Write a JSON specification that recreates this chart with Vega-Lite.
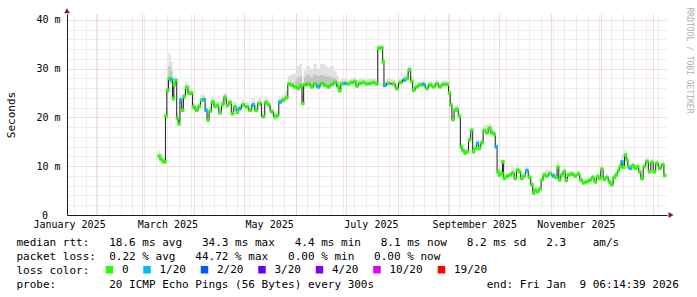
{
  "$schema": "https://vega.github.io/schema/vega-lite/v6.json",
  "width": 600,
  "height": 201,
  "autosize": {"type": "none"},
  "padding": {"left": 67, "top": 14, "right": 30, "bottom": 82},
  "background": "#ffffff",
  "config": {
    "view": {"stroke": null},
    "font": "DejaVu Sans Mono",
    "axis": {"labelFont": "DejaVu Sans Mono", "titleFont": "DejaVu Sans Mono"},
    "legend": {"labelFont": "DejaVu Sans Mono"}
  },
  "datasets": {
    "pts": [
      {"t": "2025-03-11T00:00", "v": 12.1, "loss": "0", "lo": 11.6, "hi": 13.4},
      {"t": "2025-03-12T00:00", "v": 11.5, "loss": "0", "lo": 11.0, "hi": 12.6},
      {"t": "2025-03-13T12:00", "v": 11.0, "loss": "0", "lo": 10.6, "hi": 11.8},
      {"t": "2025-03-14T12:00", "v": 10.9, "loss": "0", "lo": 10.5, "hi": 11.8},
      {"t": "2025-03-15T04:00", "v": 20.3, "loss": "0", "lo": 19.6, "hi": 22.0},
      {"t": "2025-03-16T04:00", "v": 25.6, "loss": "0", "lo": 24.8, "hi": 30.5},
      {"t": "2025-03-17T04:00", "v": 28.0, "loss": "0", "lo": 26.8, "hi": 33.3},
      {"t": "2025-03-18T14:00", "v": 27.8, "loss": "1/20", "lo": 26.8, "hi": 31.5},
      {"t": "2025-03-19T13:00", "v": 23.9, "loss": "0", "lo": 23.2, "hi": 28.0},
      {"t": "2025-03-20T04:00", "v": 26.7, "loss": "0", "lo": 25.8, "hi": 28.5},
      {"t": "2025-03-21T04:00", "v": 27.6, "loss": "0", "lo": 26.9, "hi": 28.6},
      {"t": "2025-03-22T00:00", "v": 19.8, "loss": "0", "lo": 19.2, "hi": 21.0},
      {"t": "2025-03-23T00:00", "v": 18.7, "loss": "0", "lo": 18.2, "hi": 19.8},
      {"t": "2025-03-24T00:00", "v": 23.6, "loss": "1/20", "lo": 22.8, "hi": 24.6},
      {"t": "2025-03-25T04:00", "v": 21.5, "loss": "0", "lo": 21.0, "hi": 22.6},
      {"t": "2025-03-26T00:00", "v": 24.3, "loss": "0", "lo": 23.6, "hi": 25.2},
      {"t": "2025-03-27T14:00", "v": 26.2, "loss": "0", "lo": 25.5, "hi": 27.4},
      {"t": "2025-03-29T00:00", "v": 25.0, "loss": "0", "lo": 24.5, "hi": 26.6},
      {"t": "2025-03-30T14:00", "v": 25.0, "loss": "0", "lo": 24.5, "hi": 26.0},
      {"t": "2025-03-31T13:00", "v": 22.2, "loss": "0", "lo": 21.7, "hi": 23.0},
      {"t": "2025-04-02T14:00", "v": 21.5, "loss": "0", "lo": 21.0, "hi": 22.4},
      {"t": "2025-04-04T04:00", "v": 22.3, "loss": "0", "lo": 21.8, "hi": 23.2},
      {"t": "2025-04-05T14:00", "v": 23.6, "loss": "0", "lo": 23.0, "hi": 24.6},
      {"t": "2025-04-07T00:00", "v": 23.7, "loss": "1/20", "lo": 23.1, "hi": 24.6},
      {"t": "2025-04-08T04:00", "v": 21.5, "loss": "1/20", "lo": 21.0, "hi": 22.5},
      {"t": "2025-04-09T09:00", "v": 19.5, "loss": "0", "lo": 19.0, "hi": 20.6},
      {"t": "2025-04-10T14:00", "v": 21.3, "loss": "0", "lo": 20.8, "hi": 22.2},
      {"t": "2025-04-12T04:00", "v": 23.2, "loss": "0", "lo": 22.6, "hi": 24.3},
      {"t": "2025-04-13T14:00", "v": 22.3, "loss": "0", "lo": 21.8, "hi": 23.3},
      {"t": "2025-04-15T00:00", "v": 22.5, "loss": "0", "lo": 22.0, "hi": 23.5},
      {"t": "2025-04-16T14:00", "v": 21.0, "loss": "0", "lo": 20.5, "hi": 22.0},
      {"t": "2025-04-18T04:00", "v": 22.7, "loss": "0", "lo": 22.2, "hi": 23.7},
      {"t": "2025-04-19T14:00", "v": 24.2, "loss": "0", "lo": 23.6, "hi": 25.0},
      {"t": "2025-04-21T00:00", "v": 22.5, "loss": "0", "lo": 22.0, "hi": 23.5},
      {"t": "2025-04-22T14:00", "v": 23.1, "loss": "0", "lo": 22.6, "hi": 24.0},
      {"t": "2025-04-24T00:00", "v": 20.8, "loss": "0", "lo": 20.3, "hi": 21.8},
      {"t": "2025-04-25T14:00", "v": 22.2, "loss": "0", "lo": 21.7, "hi": 23.2},
      {"t": "2025-04-27T00:00", "v": 21.1, "loss": "0", "lo": 20.6, "hi": 22.0},
      {"t": "2025-04-28T04:00", "v": 21.8, "loss": "1/20", "lo": 21.3, "hi": 22.7},
      {"t": "2025-04-30T13:00", "v": 22.6, "loss": "0", "lo": 22.1, "hi": 23.6},
      {"t": "2025-05-02T14:00", "v": 22.2, "loss": "0", "lo": 21.7, "hi": 23.2},
      {"t": "2025-05-04T14:00", "v": 21.5, "loss": "0", "lo": 21.0, "hi": 22.6},
      {"t": "2025-05-06T13:00", "v": 22.6, "loss": "1/20", "lo": 22.1, "hi": 23.8},
      {"t": "2025-05-08T04:00", "v": 21.5, "loss": "0", "lo": 21.0, "hi": 22.6},
      {"t": "2025-05-10T04:00", "v": 22.9, "loss": "0", "lo": 22.3, "hi": 24.0},
      {"t": "2025-05-12T13:00", "v": 20.2, "loss": "0", "lo": 19.7, "hi": 21.4},
      {"t": "2025-05-14T04:00", "v": 23.1, "loss": "0", "lo": 22.5, "hi": 24.2},
      {"t": "2025-05-15T13:00", "v": 22.6, "loss": "0", "lo": 22.0, "hi": 23.6},
      {"t": "2025-05-17T14:00", "v": 21.2, "loss": "0", "lo": 20.6, "hi": 22.2},
      {"t": "2025-05-19T14:00", "v": 20.2, "loss": "0", "lo": 19.5, "hi": 21.2},
      {"t": "2025-05-21T00:00", "v": 20.4, "loss": "0", "lo": 19.7, "hi": 21.4},
      {"t": "2025-05-22T14:00", "v": 23.2, "loss": "1/20", "lo": 22.6, "hi": 24.2},
      {"t": "2025-05-24T13:00", "v": 23.6, "loss": "0", "lo": 23.0, "hi": 24.6},
      {"t": "2025-05-26T14:00", "v": 24.1, "loss": "0", "lo": 23.5, "hi": 25.5},
      {"t": "2025-05-27T19:00", "v": 26.9, "loss": "0", "lo": 26.3, "hi": 28.5},
      {"t": "2025-05-29T14:00", "v": 26.7, "loss": "0", "lo": 26.1, "hi": 28.8},
      {"t": "2025-05-31T14:00", "v": 26.3, "loss": "0", "lo": 25.8, "hi": 29.0},
      {"t": "2025-06-02T13:00", "v": 26.0, "loss": "0", "lo": 25.5, "hi": 30.5},
      {"t": "2025-06-04T04:00", "v": 26.5, "loss": "0", "lo": 26.0, "hi": 31.0},
      {"t": "2025-06-05T05:00", "v": 22.9, "loss": "0", "lo": 22.5, "hi": 26.5},
      {"t": "2025-06-06T04:00", "v": 26.7, "loss": "0", "lo": 26.2, "hi": 29.5},
      {"t": "2025-06-08T13:00", "v": 26.9, "loss": "0", "lo": 26.3, "hi": 30.6},
      {"t": "2025-06-10T14:00", "v": 26.3, "loss": "0", "lo": 25.8, "hi": 29.8},
      {"t": "2025-06-12T14:00", "v": 26.9, "loss": "0", "lo": 26.3, "hi": 31.0},
      {"t": "2025-06-14T13:00", "v": 26.3, "loss": "1/20", "lo": 25.8, "hi": 30.0},
      {"t": "2025-06-16T14:00", "v": 27.0, "loss": "0", "lo": 26.4, "hi": 31.0},
      {"t": "2025-06-18T14:00", "v": 26.6, "loss": "0", "lo": 26.0, "hi": 30.8},
      {"t": "2025-06-20T13:00", "v": 26.3, "loss": "0", "lo": 25.8, "hi": 30.2},
      {"t": "2025-06-22T14:00", "v": 26.8, "loss": "0", "lo": 26.2, "hi": 30.6},
      {"t": "2025-06-24T14:00", "v": 27.2, "loss": "0", "lo": 26.6, "hi": 29.5},
      {"t": "2025-06-26T13:00", "v": 26.3, "loss": "0", "lo": 25.8, "hi": 28.5},
      {"t": "2025-06-27T07:00", "v": 25.5, "loss": "0", "lo": 25.0, "hi": 27.5},
      {"t": "2025-06-28T14:00", "v": 26.9, "loss": "0", "lo": 26.4, "hi": 28.0},
      {"t": "2025-06-30T14:00", "v": 27.0, "loss": "1/20", "lo": 26.5, "hi": 27.9},
      {"t": "2025-07-02T13:00", "v": 26.9, "loss": "0", "lo": 26.4, "hi": 27.8},
      {"t": "2025-07-04T14:00", "v": 27.2, "loss": "0", "lo": 26.7, "hi": 28.0},
      {"t": "2025-07-06T14:00", "v": 27.4, "loss": "0", "lo": 26.9, "hi": 28.2},
      {"t": "2025-07-07T14:00", "v": 26.5, "loss": "0", "lo": 26.0, "hi": 27.4},
      {"t": "2025-07-09T14:00", "v": 27.0, "loss": "0", "lo": 26.5, "hi": 27.9},
      {"t": "2025-07-11T13:00", "v": 27.2, "loss": "0", "lo": 26.7, "hi": 28.0},
      {"t": "2025-07-13T14:00", "v": 26.9, "loss": "0", "lo": 26.4, "hi": 27.8},
      {"t": "2025-07-15T14:00", "v": 27.0, "loss": "0", "lo": 26.5, "hi": 27.9},
      {"t": "2025-07-17T13:00", "v": 27.2, "loss": "0", "lo": 26.7, "hi": 28.0},
      {"t": "2025-07-19T14:00", "v": 26.9, "loss": "0", "lo": 26.4, "hi": 27.8},
      {"t": "2025-07-20T16:00", "v": 34.2, "loss": "0", "lo": 33.8, "hi": 34.8},
      {"t": "2025-07-22T14:00", "v": 34.3, "loss": "0", "lo": 33.8, "hi": 34.9},
      {"t": "2025-07-23T13:00", "v": 31.4, "loss": "0", "lo": 30.8, "hi": 32.2},
      {"t": "2025-07-24T04:00", "v": 26.6, "loss": "1/20", "lo": 26.1, "hi": 27.5},
      {"t": "2025-07-26T13:00", "v": 27.0, "loss": "0", "lo": 26.5, "hi": 27.9},
      {"t": "2025-07-29T13:00", "v": 26.9, "loss": "0", "lo": 26.4, "hi": 27.8},
      {"t": "2025-07-31T14:00", "v": 26.0, "loss": "0", "lo": 25.5, "hi": 27.0},
      {"t": "2025-08-02T14:00", "v": 27.2, "loss": "0", "lo": 26.7, "hi": 28.0},
      {"t": "2025-08-05T04:00", "v": 27.7, "loss": "1/20", "lo": 27.2, "hi": 28.8},
      {"t": "2025-08-06T14:00", "v": 28.0, "loss": "0", "lo": 27.4, "hi": 29.2},
      {"t": "2025-08-08T04:00", "v": 29.8, "loss": "0", "lo": 29.2, "hi": 30.6},
      {"t": "2025-08-09T14:00", "v": 27.4, "loss": "0", "lo": 26.8, "hi": 28.5},
      {"t": "2025-08-10T13:00", "v": 25.6, "loss": "0", "lo": 25.1, "hi": 26.5},
      {"t": "2025-08-12T14:00", "v": 26.3, "loss": "0", "lo": 25.8, "hi": 27.2},
      {"t": "2025-08-14T14:00", "v": 26.7, "loss": "0", "lo": 26.2, "hi": 27.5},
      {"t": "2025-08-16T13:00", "v": 26.8, "loss": "1/20", "lo": 26.3, "hi": 27.6},
      {"t": "2025-08-18T14:00", "v": 26.0, "loss": "0", "lo": 25.5, "hi": 26.9},
      {"t": "2025-08-20T14:00", "v": 26.7, "loss": "0", "lo": 26.2, "hi": 27.5},
      {"t": "2025-08-22T13:00", "v": 26.3, "loss": "0", "lo": 25.8, "hi": 27.1},
      {"t": "2025-08-24T14:00", "v": 26.9, "loss": "0", "lo": 26.4, "hi": 27.7},
      {"t": "2025-08-26T14:00", "v": 26.3, "loss": "0", "lo": 25.8, "hi": 27.1},
      {"t": "2025-08-28T13:00", "v": 26.8, "loss": "0", "lo": 26.3, "hi": 27.6},
      {"t": "2025-08-31T00:00", "v": 26.8, "loss": "0", "lo": 26.3, "hi": 27.6},
      {"t": "2025-09-01T04:00", "v": 25.0, "loss": "0", "lo": 24.5, "hi": 25.8},
      {"t": "2025-09-02T00:00", "v": 22.6, "loss": "0", "lo": 22.1, "hi": 23.4},
      {"t": "2025-09-03T05:00", "v": 19.6, "loss": "0", "lo": 19.1, "hi": 20.4},
      {"t": "2025-09-04T14:00", "v": 21.5, "loss": "0", "lo": 21.0, "hi": 22.3},
      {"t": "2025-09-05T14:00", "v": 21.7, "loss": "0", "lo": 21.2, "hi": 22.5},
      {"t": "2025-09-07T04:00", "v": 20.3, "loss": "0", "lo": 19.8, "hi": 21.1},
      {"t": "2025-09-08T04:00", "v": 14.0, "loss": "0", "lo": 13.5, "hi": 14.8},
      {"t": "2025-09-09T05:00", "v": 13.3, "loss": "0", "lo": 12.8, "hi": 14.1},
      {"t": "2025-09-10T14:00", "v": 12.7, "loss": "0", "lo": 12.2, "hi": 13.5},
      {"t": "2025-09-12T00:00", "v": 13.0, "loss": "0", "lo": 12.5, "hi": 13.8},
      {"t": "2025-09-13T04:00", "v": 15.4, "loss": "0", "lo": 14.9, "hi": 16.4},
      {"t": "2025-09-14T14:00", "v": 17.4, "loss": "0", "lo": 16.8, "hi": 18.2},
      {"t": "2025-09-15T13:00", "v": 13.0, "loss": "0", "lo": 12.5, "hi": 13.8},
      {"t": "2025-09-16T18:00", "v": 13.7, "loss": "0", "lo": 13.2, "hi": 14.5},
      {"t": "2025-09-18T00:00", "v": 14.7, "loss": "1/20", "lo": 14.2, "hi": 15.5},
      {"t": "2025-09-19T04:00", "v": 13.7, "loss": "0", "lo": 13.2, "hi": 14.5},
      {"t": "2025-09-20T14:00", "v": 14.8, "loss": "0", "lo": 14.3, "hi": 15.6},
      {"t": "2025-09-22T00:00", "v": 17.3, "loss": "0", "lo": 16.7, "hi": 18.3},
      {"t": "2025-09-23T14:00", "v": 16.9, "loss": "0", "lo": 16.3, "hi": 18.5},
      {"t": "2025-09-25T04:00", "v": 17.8, "loss": "0", "lo": 17.2, "hi": 18.8},
      {"t": "2025-09-26T14:00", "v": 16.9, "loss": "0", "lo": 16.3, "hi": 18.5},
      {"t": "2025-09-28T00:00", "v": 16.6, "loss": "0", "lo": 16.1, "hi": 17.6},
      {"t": "2025-09-29T04:00", "v": 14.0, "loss": "1/20", "lo": 13.5, "hi": 14.8},
      {"t": "2025-09-30T05:00", "v": 8.9, "loss": "0", "lo": 8.5, "hi": 9.6},
      {"t": "2025-10-01T04:00", "v": 8.2, "loss": "0", "lo": 7.8, "hi": 8.9},
      {"t": "2025-10-02T14:00", "v": 8.5, "loss": "0", "lo": 8.1, "hi": 9.2},
      {"t": "2025-10-03T05:00", "v": 10.9, "loss": "0", "lo": 10.4, "hi": 11.6},
      {"t": "2025-10-04T00:00", "v": 7.5, "loss": "0", "lo": 7.1, "hi": 8.2},
      {"t": "2025-10-05T14:00", "v": 7.9, "loss": "0", "lo": 7.5, "hi": 8.6},
      {"t": "2025-10-07T14:00", "v": 8.2, "loss": "0", "lo": 7.8, "hi": 8.9},
      {"t": "2025-10-09T05:00", "v": 8.6, "loss": "0", "lo": 8.2, "hi": 9.8},
      {"t": "2025-10-10T14:00", "v": 7.5, "loss": "0", "lo": 7.1, "hi": 8.2},
      {"t": "2025-10-12T00:00", "v": 9.2, "loss": "0", "lo": 8.8, "hi": 9.9},
      {"t": "2025-10-13T04:00", "v": 8.9, "loss": "0", "lo": 8.5, "hi": 9.6},
      {"t": "2025-10-14T14:00", "v": 7.5, "loss": "0", "lo": 7.1, "hi": 8.2},
      {"t": "2025-10-16T00:00", "v": 8.0, "loss": "0", "lo": 7.6, "hi": 8.7},
      {"t": "2025-10-17T14:00", "v": 9.1, "loss": "1/20", "lo": 8.7, "hi": 9.8},
      {"t": "2025-10-19T04:00", "v": 7.7, "loss": "0", "lo": 7.3, "hi": 8.4},
      {"t": "2025-10-20T14:00", "v": 6.2, "loss": "0", "lo": 5.8, "hi": 6.9},
      {"t": "2025-10-21T13:00", "v": 4.5, "loss": "0", "lo": 4.2, "hi": 5.2},
      {"t": "2025-10-22T14:00", "v": 5.1, "loss": "0", "lo": 4.7, "hi": 5.8},
      {"t": "2025-10-24T00:00", "v": 4.8, "loss": "0", "lo": 4.4, "hi": 5.5},
      {"t": "2025-10-25T14:00", "v": 5.4, "loss": "0", "lo": 5.0, "hi": 6.1},
      {"t": "2025-10-26T14:00", "v": 7.2, "loss": "0", "lo": 6.8, "hi": 7.9},
      {"t": "2025-10-28T00:00", "v": 8.2, "loss": "0", "lo": 7.8, "hi": 9.0},
      {"t": "2025-10-29T14:00", "v": 8.0, "loss": "0", "lo": 7.6, "hi": 9.4},
      {"t": "2025-10-31T14:00", "v": 8.5, "loss": "0", "lo": 8.1, "hi": 9.2},
      {"t": "2025-11-02T13:00", "v": 8.0, "loss": "1/20", "lo": 7.6, "hi": 8.7},
      {"t": "2025-11-04T04:00", "v": 7.7, "loss": "0", "lo": 7.3, "hi": 8.4},
      {"t": "2025-11-05T05:00", "v": 9.8, "loss": "0", "lo": 9.3, "hi": 11.2},
      {"t": "2025-11-06T04:00", "v": 7.2, "loss": "0", "lo": 6.8, "hi": 7.9},
      {"t": "2025-11-07T14:00", "v": 8.2, "loss": "0", "lo": 7.8, "hi": 8.9},
      {"t": "2025-11-09T00:00", "v": 8.9, "loss": "0", "lo": 8.4, "hi": 10.0},
      {"t": "2025-11-10T04:00", "v": 7.1, "loss": "0", "lo": 6.7, "hi": 7.8},
      {"t": "2025-11-11T13:00", "v": 8.2, "loss": "0", "lo": 7.8, "hi": 8.9},
      {"t": "2025-11-13T14:00", "v": 8.4, "loss": "0", "lo": 8.0, "hi": 9.1},
      {"t": "2025-11-15T14:00", "v": 8.0, "loss": "0", "lo": 7.6, "hi": 8.7},
      {"t": "2025-11-17T13:00", "v": 8.4, "loss": "0", "lo": 8.0, "hi": 9.1},
      {"t": "2025-11-19T00:00", "v": 7.2, "loss": "0", "lo": 6.8, "hi": 7.9},
      {"t": "2025-11-20T13:00", "v": 6.6, "loss": "0", "lo": 6.2, "hi": 7.3},
      {"t": "2025-11-22T14:00", "v": 6.8, "loss": "0", "lo": 6.4, "hi": 7.5},
      {"t": "2025-11-24T14:00", "v": 7.2, "loss": "0", "lo": 6.8, "hi": 7.9},
      {"t": "2025-11-26T05:00", "v": 7.7, "loss": "0", "lo": 7.3, "hi": 8.4},
      {"t": "2025-11-27T14:00", "v": 6.8, "loss": "0", "lo": 6.4, "hi": 7.5},
      {"t": "2025-11-29T00:00", "v": 7.9, "loss": "0", "lo": 7.5, "hi": 8.6},
      {"t": "2025-11-30T04:00", "v": 7.5, "loss": "0", "lo": 7.1, "hi": 8.2},
      {"t": "2025-12-01T14:00", "v": 9.4, "loss": "0", "lo": 8.9, "hi": 10.1},
      {"t": "2025-12-03T00:00", "v": 7.3, "loss": "0", "lo": 6.9, "hi": 8.0},
      {"t": "2025-12-04T14:00", "v": 7.7, "loss": "0", "lo": 7.3, "hi": 8.4},
      {"t": "2025-12-06T04:00", "v": 6.8, "loss": "0", "lo": 6.4, "hi": 7.5},
      {"t": "2025-12-07T14:00", "v": 6.2, "loss": "0", "lo": 5.8, "hi": 6.9},
      {"t": "2025-12-09T00:00", "v": 7.7, "loss": "0", "lo": 7.3, "hi": 8.4},
      {"t": "2025-12-10T04:00", "v": 8.2, "loss": "0", "lo": 7.8, "hi": 8.9},
      {"t": "2025-12-11T13:00", "v": 9.1, "loss": "0", "lo": 8.7, "hi": 9.8},
      {"t": "2025-12-12T14:00", "v": 9.9, "loss": "0", "lo": 9.4, "hi": 10.8},
      {"t": "2025-12-13T14:00", "v": 10.9, "loss": "1/20", "lo": 10.4, "hi": 12.3},
      {"t": "2025-12-14T13:00", "v": 9.8, "loss": "0", "lo": 9.3, "hi": 10.8},
      {"t": "2025-12-15T14:00", "v": 12.3, "loss": "0", "lo": 11.8, "hi": 13.3},
      {"t": "2025-12-16T14:00", "v": 11.3, "loss": "0", "lo": 10.8, "hi": 12.5},
      {"t": "2025-12-17T13:00", "v": 9.9, "loss": "0", "lo": 9.4, "hi": 10.6},
      {"t": "2025-12-18T14:00", "v": 9.6, "loss": "1/20", "lo": 9.1, "hi": 10.3},
      {"t": "2025-12-20T05:00", "v": 10.1, "loss": "0", "lo": 9.6, "hi": 10.8},
      {"t": "2025-12-21T14:00", "v": 9.6, "loss": "0", "lo": 9.1, "hi": 10.3},
      {"t": "2025-12-23T00:00", "v": 9.9, "loss": "0", "lo": 9.4, "hi": 10.6},
      {"t": "2025-12-24T04:00", "v": 8.9, "loss": "0", "lo": 8.4, "hi": 9.6},
      {"t": "2025-12-25T14:00", "v": 7.5, "loss": "0", "lo": 7.1, "hi": 8.2},
      {"t": "2025-12-27T00:00", "v": 9.9, "loss": "0", "lo": 9.4, "hi": 10.6},
      {"t": "2025-12-28T14:00", "v": 11.0, "loss": "0", "lo": 10.5, "hi": 11.7},
      {"t": "2025-12-30T04:00", "v": 8.9, "loss": "0", "lo": 8.4, "hi": 9.6},
      {"t": "2025-12-31T14:00", "v": 10.8, "loss": "0", "lo": 10.3, "hi": 11.5},
      {"t": "2026-01-02T00:00", "v": 8.9, "loss": "0", "lo": 8.4, "hi": 9.6},
      {"t": "2026-01-03T14:00", "v": 10.6, "loss": "0", "lo": 10.1, "hi": 11.3},
      {"t": "2026-01-05T04:00", "v": 9.6, "loss": "0", "lo": 9.1, "hi": 10.3},
      {"t": "2026-01-07T05:00", "v": 10.3, "loss": "0", "lo": 9.8, "hi": 11.2},
      {"t": "2026-01-08T06:00", "v": 8.1, "loss": "0", "lo": 7.7, "hi": 8.8}
    ],
    "core": [
      {"t": "2025-03-15T04:00", "seg": "a", "lo": 19.8, "hi": 21.0},
      {"t": "2025-03-16T04:00", "seg": "a", "lo": 25.2, "hi": 28.0},
      {"t": "2025-03-17T04:00", "seg": "a", "lo": 27.4, "hi": 30.5},
      {"t": "2025-03-18T14:00", "seg": "a", "lo": 27.2, "hi": 29.5},
      {"t": "2025-03-19T13:00", "seg": "a", "lo": 23.6, "hi": 26.0},
      {"t": "2025-03-20T04:00", "seg": "a", "lo": 26.3, "hi": 27.5},
      {"t": "2025-05-31T14:00", "seg": "b", "lo": 26.0, "hi": 27.5},
      {"t": "2025-06-02T13:00", "seg": "b", "lo": 25.8, "hi": 28.2},
      {"t": "2025-06-04T04:00", "seg": "b", "lo": 26.2, "hi": 28.5},
      {"t": "2025-06-05T05:00", "seg": "b", "lo": 22.7, "hi": 25.0},
      {"t": "2025-06-06T04:00", "seg": "b", "lo": 26.4, "hi": 28.3},
      {"t": "2025-06-08T13:00", "seg": "b", "lo": 26.6, "hi": 28.8},
      {"t": "2025-06-10T14:00", "seg": "b", "lo": 26.0, "hi": 28.3},
      {"t": "2025-06-12T14:00", "seg": "b", "lo": 26.6, "hi": 28.8},
      {"t": "2025-06-14T13:00", "seg": "b", "lo": 26.0, "hi": 28.5},
      {"t": "2025-06-16T14:00", "seg": "b", "lo": 26.7, "hi": 28.7},
      {"t": "2025-06-18T14:00", "seg": "b", "lo": 26.3, "hi": 28.5},
      {"t": "2025-06-20T13:00", "seg": "b", "lo": 26.0, "hi": 28.4},
      {"t": "2025-06-22T14:00", "seg": "b", "lo": 26.5, "hi": 28.3},
      {"t": "2025-06-24T14:00", "seg": "b", "lo": 26.9, "hi": 28.0},
      {"t": "2025-06-26T13:00", "seg": "b", "lo": 26.0, "hi": 27.3}
    ]
  },
  "resolve": {"axis": {"x": "independent", "y": "independent"}},
  "layer": [
    {
      "data": {"name": "pts"},
      "mark": {"type": "area", "interpolate": "step", "color": "#e0e0e0"},
      "encoding": {
        "x": {
          "field": "t", "type": "temporal",
          "scale": {"domain": [{"year": 2025, "month": 1, "date": 14, "hours": 18, "minutes": 45}, {"year": 2026, "month": 1, "date": 9, "hours": 13, "minutes": 55}], "nice": false},
          "axis": {"orient": "bottom", "grid": true, "gridColor": "#dcdcdc", "gridDash": [1, 1], "gridWidth": 1, "labels": false, "ticks": false, "domain": false, "title": null, "tickCount": {"interval": "week", "step": 1}}
        },
        "y": {
          "field": "hi", "type": "quantitative",
          "scale": {"domain": [0, 41.23], "nice": false, "zero": true},
          "axis": {"orient": "left", "grid": true, "gridColor": "#dcdcdc", "gridDash": [1, 1], "gridWidth": 1, "labels": false, "ticks": false, "domain": false, "title": null, "values": [2, 4, 6, 8, 12, 14, 16, 18, 22, 24, 26, 28, 32, 34, 36, 38]}
        },
        "y2": {"field": "lo"}
      }
    },
    {
      "data": {"name": "core"},
      "mark": {"type": "area", "interpolate": "step", "color": "#c4c4c4"},
      "encoding": {
        "detail": {"field": "seg", "type": "nominal"},
        "x": {
          "field": "t", "type": "temporal",
          "axis": {"orient": "bottom", "grid": true, "gridColor": "#efb4b4", "gridDash": [1, 1], "gridWidth": 1, "labels": false, "ticks": false, "domain": false, "title": null, "tickCount": {"interval": "month", "step": 1}}
        },
        "y": {
          "field": "hi", "type": "quantitative",
          "axis": {
            "orient": "left", "grid": true, "gridColor": "#efb4b4", "gridDash": [1, 1], "gridWidth": 1,
            "values": [0, 10, 20, 30, 40],
            "labelExpr": "datum.value == 0 ? '0' : datum.value + '\u00a0m'",
            "labelFont": "DejaVu Sans Mono", "labelFontSize": 10, "labelColor": "#000000",
            "labelPadding": {"condition": {"test": "datum.value == 0", "value": 19.5}, "value": 7},
            "labelBaseline": "middle",
            "ticks": false, "tickSize": 0,
            "domain": true, "domainColor": "#1f1f1f", "domainWidth": 1,
            "title": "Seconds", "titleFont": "DejaVu Sans Mono", "titleFontSize": 11, "titleFontWeight": "normal", "titleColor": "#000000",
            "titleX": -56, "titleY": 100.5, "titleAngle": -90, "titleAlign": "center", "titleBaseline": "middle"
          }
        },
        "y2": {"field": "lo"}
      }
    },
    {
      "data": {"name": "pts"},
      "mark": {"type": "line", "interpolate": "step", "color": "#202020", "strokeWidth": 1},
      "encoding": {
        "x": {
          "field": "t", "type": "temporal",
          "axis": {
            "orient": "bottom", "grid": false, "ticks": false, "tickSize": 0,
            "values": [
              {"year": 2025, "month": 1, "date": 16},
              {"year": 2025, "month": 3, "date": 16},
              {"year": 2025, "month": 5, "date": 16},
              {"year": 2025, "month": 7, "date": 16},
              {"year": 2025, "month": 9, "date": 16},
              {"year": 2025, "month": 11, "date": 16}
            ],
            "format": "%B %Y", "formatType": "time",
            "labelFont": "DejaVu Sans Mono", "labelFontSize": 10, "labelColor": "#000000", "labelPadding": 12.5, "labelBaseline": "alphabetic",
            "labelFlush": false, "labelOverlap": false, "labelBound": false,
            "domain": true, "domainColor": "#1f1f1f", "domainWidth": 1,
            "title": [
              "median rtt:\u00a0\u00a0\u00a018.6 ms avg\u00a0\u00a0\u00a034.3 ms max\u00a0\u00a0\u00a04.4 ms min\u00a0\u00a0\u00a08.1 ms now\u00a0\u00a0\u00a08.2 ms sd\u00a0\u00a0\u00a02.3\u00a0\u00a0\u00a0\u00a0am/s",
              "packet loss:\u00a0\u00a00.22 % avg\u00a0\u00a0\u00a044.72 % max\u00a0\u00a0\u00a00.00 % min\u00a0\u00a0\u00a00.00 % now",
              "loss color:",
              "probe:\u00a0\u00a0\u00a0\u00a0\u00a0\u00a0\u00a0\u00a020 ICMP Echo Pings (56 Bytes) every 300s\u00a0\u00a0\u00a0\u00a0\u00a0\u00a0\u00a0\u00a0\u00a0\u00a0\u00a0\u00a0\u00a0\u00a0\u00a0\u00a0\u00a0end: Fri Jan\u00a0\u00a09 06:14:39 2026"
            ],
            "titleX": -51, "titleY": 30.5, "titleAlign": "left", "titleAngle": 0, "titleBaseline": "alphabetic",
            "titleFont": "DejaVu Sans Mono", "titleFontSize": 11, "titleFontWeight": "normal", "titleColor": "#000000",
            "titleLineHeight": 13.85, "titleLimit": 1000
          }
        },
        "y": {
          "field": "v", "type": "quantitative",
          "axis": {
            "orient": "right", "grid": false, "labels": false, "ticks": false, "domain": false,
            "title": "RRDTOOL / TOBI OETIKER", "titleAngle": 90, "titleX": 21, "titleY": 46,
            "titleFont": "DejaVu Sans Mono", "titleFontSize": 8, "titleFontWeight": "normal", "titleColor": "#b0b0b0",
            "titleAlign": "center", "titleBaseline": "middle"
          }
        }
      }
    },
    {
      "data": {"name": "pts"},
      "mark": {"type": "point", "shape": "square", "filled": true, "size": 12, "opacity": 1},
      "encoding": {
        "x": {"field": "t", "type": "temporal", "axis": null},
        "y": {"field": "v", "type": "quantitative", "axis": null},
        "color": {
          "field": "loss", "type": "nominal",
          "scale": {"domain": ["0", "1/20", "2/20", "3/20", "4/20", "10/20", "19/20"], "range": ["#26ff00", "#00b8ff", "#0059ff", "#5e00ff", "#7e00ff", "#dd00ff", "#ff0000"]},
          "legend": {
            "orient": "none", "legendX": 37, "legendY": 250, "direction": "horizontal", "title": null, "padding": 0,
            "labelFont": "DejaVu Sans Mono", "labelFontSize": 11, "labelColor": "#000000", "labelOffset": 7, "columnPadding": 12.5,
            "symbolSize": 56, "symbolType": "square",
            "encode": {"symbols": {"update": {"stroke": {"value": "#000000"}, "strokeWidth": {"value": 1}, "shape": {"value": "square"}, "size": {"value": 56}, "opacity": {"value": 1}}}}
          }
        }
      }
    },
    {
      "data": {"values": [{}]},
      "mark": {"type": "point", "shape": "triangle-up", "filled": true, "color": "#7f1f1f", "size": 34, "opacity": 1},
      "encoding": {
        "x": {"datum": {"year": 2025, "month": 1, "date": 14, "hours": 18, "minutes": 45}, "type": "temporal", "axis": null},
        "y": {"datum": 41.9, "type": "quantitative", "axis": null}
      }
    },
    {
      "data": {"values": [{}]},
      "mark": {"type": "point", "shape": "triangle-right", "filled": true, "color": "#7f1f1f", "size": 34, "opacity": 1},
      "encoding": {
        "x": {"datum": {"year": 2026, "month": 1, "date": 11, "hours": 23, "minutes": 30}, "type": "temporal", "axis": null},
        "y": {"datum": 0, "type": "quantitative", "axis": null}
      }
    }
  ]
}
